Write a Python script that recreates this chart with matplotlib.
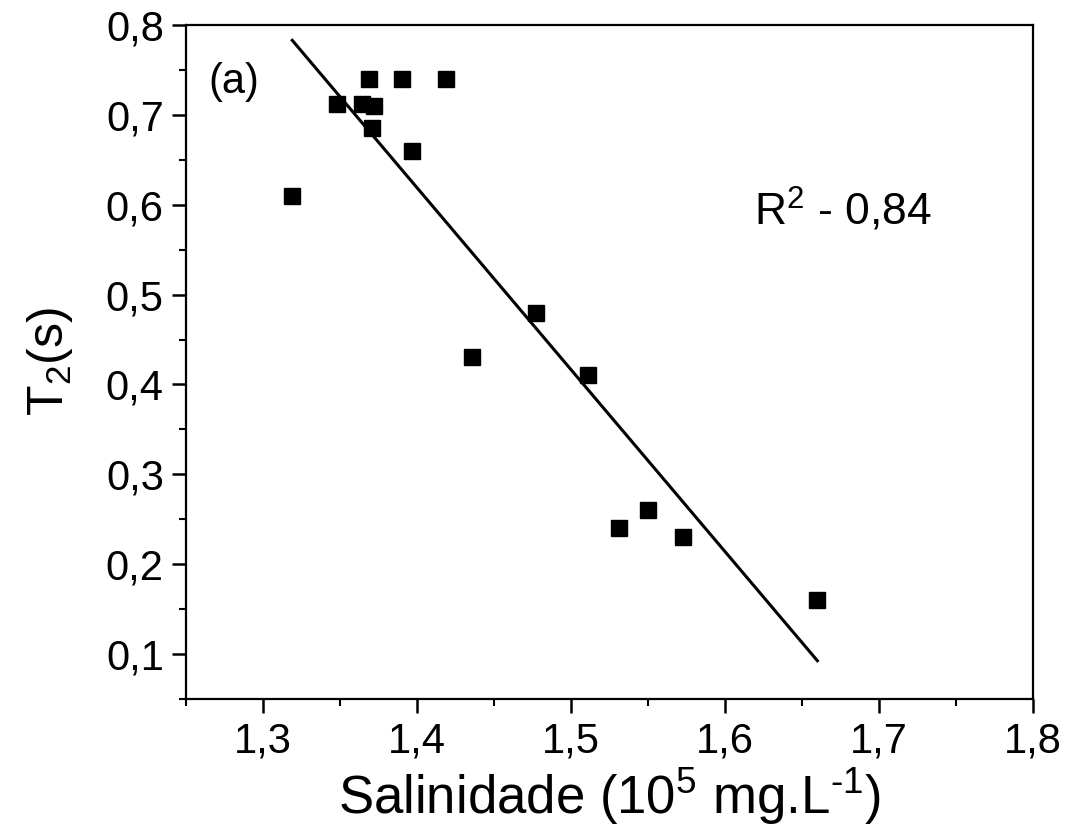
import matplotlib
matplotlib.use("Agg")
import matplotlib.pyplot as plt
import numpy as np
from matplotlib.ticker import MultipleLocator, FuncFormatter

plt.rcParams['font.family'] = ['Liberation Sans', 'DejaVu Sans']
plt.rcParams['mathtext.fontset'] = 'custom'
plt.rcParams['mathtext.rm'] = 'Liberation Sans'
plt.rcParams['mathtext.it'] = 'Liberation Sans:italic'

# salinity (10^5 mg/L) vs T2 (s)
salinidade = [1.319, 1.348, 1.364, 1.372, 1.369, 1.390, 1.419, 1.371, 1.397,
              1.4775, 1.436, 1.511, 1.531, 1.550, 1.573, 1.660]
t2 = [0.61, 0.712, 0.712, 0.71, 0.74, 0.74, 0.74, 0.685, 0.66,
      0.48, 0.43, 0.41, 0.24, 0.26, 0.23, 0.16]

# linear fit line endpoints
fit_x = [1.319, 1.660]
fit_y = [0.783, 0.0925]

size = 30

fig = plt.figure(figsize=(10.66, 8.35), dpi=100)
ax = fig.add_axes([0.1745, 0.163, 0.7945, 0.807])

ax.plot(fit_x, fit_y, color='black', linewidth=2.2)
ax.plot(salinidade, t2, 's', color='black', markersize=11, linestyle='none')

ax.set_xlim(1.25, 1.8)
ax.set_ylim(0.05, 0.8)

ax.xaxis.set_major_locator(MultipleLocator(0.1))
ax.xaxis.set_minor_locator(MultipleLocator(0.05))
ax.yaxis.set_major_locator(MultipleLocator(0.1))
ax.yaxis.set_minor_locator(MultipleLocator(0.05))

comma = FuncFormatter(lambda v, p: ('%.1f' % v).replace('.', ','))
ax.xaxis.set_major_formatter(comma)
ax.yaxis.set_major_formatter(comma)

ax.tick_params(direction='out', length=10, width=1.8, labelsize=size, pad=6)
ax.tick_params(which='minor', direction='out', length=5, width=1.5)
for s in ax.spines.values():
    s.set_linewidth(1.6)

ax.set_xlabel(r'Salinidade (10$^5$ mg.L$^{\text{-}1}$)', size=38, labelpad=4)
ax.set_ylabel('T$_2$(s)', size=36, labelpad=22)

ax.text(1.2645, 0.737, '(a)', size=size, va='center', ha='left')
ax.text(1.619, 0.594, 'R$^2$ - 0,84', size=32, va='center', ha='left')

plt.savefig("out.png", dpi=100)
